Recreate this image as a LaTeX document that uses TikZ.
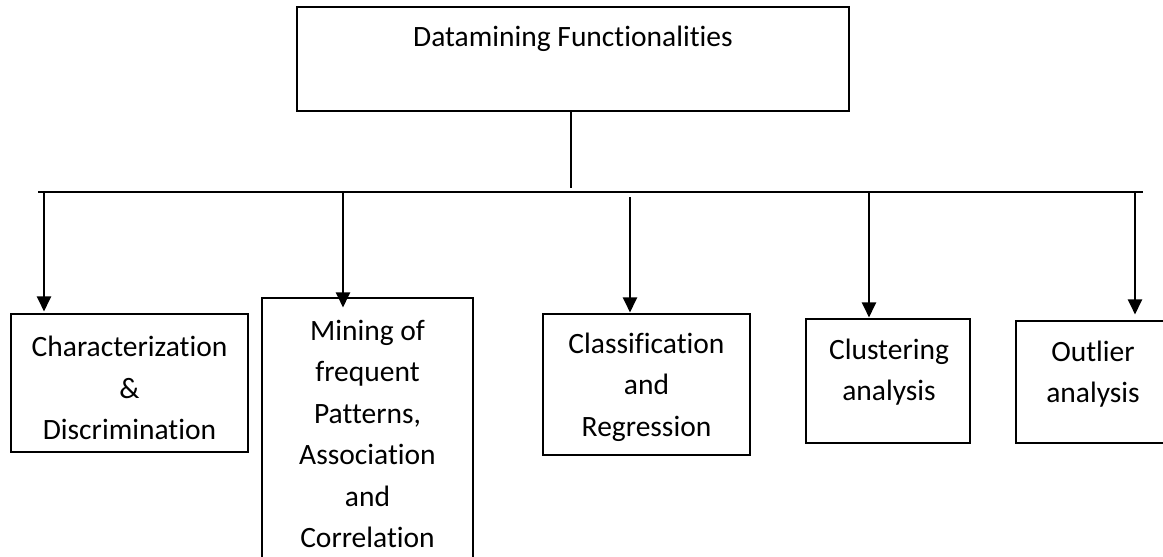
\documentclass[tikz,border=0pt]{standalone}
\usepackage{fontspec}
\setmainfont{Carlito}[Ligatures=NoCommon]
\usetikzlibrary{arrows.meta}
\begin{document}
\begin{tikzpicture}[x=1pt,y=-1pt,
  box/.style={draw=black, line width=1.1pt, rectangle, inner sep=0pt},
  lbl/.style={align=center, font=\fontsize{29.5}{41.5}\selectfont, inner sep=0pt},
  conn/.style={line width=2.3pt},
  arr/.style={line width=2.3pt, -{Triangle[length=15pt,width=14pt]}}]
\useasboundingbox (0,0) rectangle (1163,557);

% boxes
\node[box, minimum width=552pt, minimum height=104pt] (top) at (573,59) {};
\node[box, minimum width=237pt, minimum height=138pt] (c1) at (129.5,383) {};
\node[box, minimum width=211pt, minimum height=272pt] (c2) at (367.5,434) {};
\node[box, minimum width=207pt, minimum height=141pt] (c3) at (646.5,384.5) {};
\node[box, minimum width=164pt, minimum height=124pt] (c4) at (888,381) {};
\node[box, minimum width=160pt, minimum height=122pt] (c5) at (1096,382) {};

% texts
\node[lbl] (ttop) at (573,39) {Datamining Functionalities};
\node[lbl] (t1) at (129.5,388) {Characterization\\\&\\Discrimination};
\node[lbl] (t2) at (367.5,434) {Mining of\\frequent\\Patterns,\\Association\\and\\Correlation};
\node[lbl] (t3) at (646.5,387) {Classification\\and\\Regression};
\node[lbl] (t4) at (889,372) {Clustering\\analysis};
\node[lbl] (t5) at (1093,374) {Outlier\\analysis};

% bus
\coordinate (vtop) at (571,188);
\coordinate (bl) at (38,192);
\coordinate (br) at (1143,192);
\coordinate (b1) at (44,192);
\coordinate (b2) at (343,192);
\coordinate (b3) at (630,197);
\coordinate (b4) at (869,192);
\coordinate (b5) at (1135,192);

\draw[conn] (top.south -| vtop) -- (vtop);
\draw[conn] (bl) -- (br);

\draw[arr] (b1) -- ([yshift=2pt]c1.north -| b1);
\draw[arr] (b2) -- ([yshift=-10pt]c2.north -| b2);
\draw[arr] (b3) -- ([yshift=1pt]c3.north -| b3);
\draw[arr] (b4) -- ([yshift=1pt]c4.north -| b4);
\draw[arr] (b5) -- ([yshift=6pt]c5.north -| b5);
\end{tikzpicture}
\end{document}
